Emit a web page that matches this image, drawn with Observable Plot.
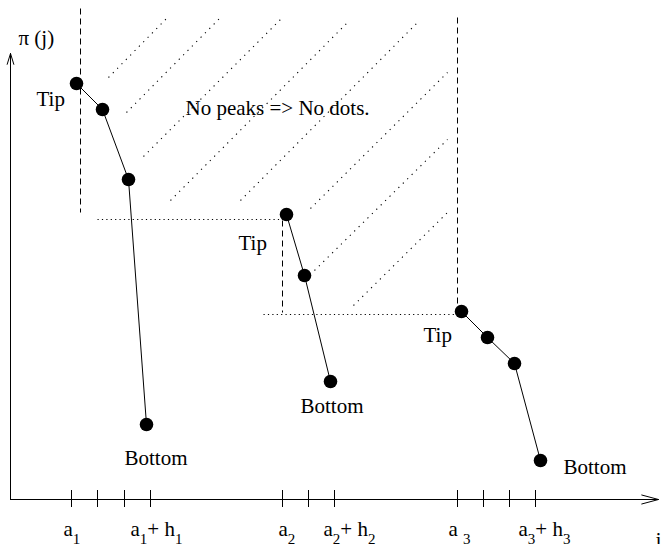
<!DOCTYPE html>
<html>
<head>
<meta charset="utf-8">
<script src="https://cdn.jsdelivr.net/npm/d3@7"></script>
<script src="https://cdn.jsdelivr.net/npm/@observablehq/plot@0.6"></script>
<style>
  html, body { margin: 0; padding: 0; background: #fff; }
  #chart { width: 661px; height: 544px; }
  #chart svg, #chart svg text { font-family: "Liberation Serif", "DejaVu Serif", serif !important; }
</style>
</head>
<body>
<div id="chart"></div>
<script>
// ---- data (j on the horizontal axis, π(j) on the vertical axis) ----
const peak1J  = [66, 92, 118, 136];
const peak1Pi = [416, 390, 320, 75];
const peak2J  = [276, 294, 320];
const peak2Pi = [285, 224, 118];
const peak3J  = [451, 477, 504, 530];
const peak3Pi = [188, 162, 136, 39];

const tickJ = [61, 87, 114, 140, 272, 298, 324, 447, 473, 499, 525];
const tickLabels = ["a_1", "a_1+ h_1", "a_2", "a_2+ h_2", "a _3", "a_3+ h_3"];
const tickLabelJ = [53, 120, 268, 313, 438, 508];

// hatching ("No peaks" region) — dotted diagonal strokes
const hatchJ1  = [98, 116, 133, 160, 230, 300, 304, 343];
const hatchPi1 = [422, 387, 343, 299, 299, 291, 229, 194];
const hatchJ2  = [157, 210, 272, 338, 408, 437, 437, 438];
const hatchPi2 = [482, 482, 482, 478, 478, 427, 360, 288];

// dashed verticals above each tip
const dashJ = [70, 272, 447];
const dashTop = [491, 279, 482];
const dashBottom = [287, 187, 193];

// dotted horizontals at tip heights
const dotPi = [280, 185];
const dotJ1 = [87, 253];
const dotJ2 = [270, 445];

// annotations
const noteText = ["Tip", "Tip", "Tip", "Bottom", "Bottom", "Bottom", "No peaks => No dots."];
const noteJ    = [26, 228, 413, 114, 290, 553, 175];
const notePi   = [394, 250, 158, 35, 87, 26, 385];

const yLabel = "π (j)";
const xLabel = "j";

// ---- tables built from the arrays ----
const peaks = [
  ...peak1J.map((j, i) => ({peak: 1, j, pi: peak1Pi[i]})),
  ...peak2J.map((j, i) => ({peak: 2, j, pi: peak2Pi[i]})),
  ...peak3J.map((j, i) => ({peak: 3, j, pi: peak3Pi[i]}))
];
const hatch = hatchJ1.map((j, i) => ({j1: j, pi1: hatchPi1[i], j2: hatchJ2[i], pi2: hatchPi2[i]}));
const dashes = dashJ.map((j, i) => ({j, top: dashTop[i], bottom: dashBottom[i]}));
const dots = dotPi.map((pi, i) => ({pi, j1: dotJ1[i], j2: dotJ2[i]}));
const notes = noteText.map((t, i) => ({t, j: noteJ[i], pi: notePi[i]}));
const labels = tickLabels.map((t, i) => ({t, j: tickLabelJ[i]}));

const FS = 21;
const FF = "Liberation Serif";

const chart = Plot.plot({
  width: 661,
  height: 544,
  margin: 0,
  x: {domain: [-10, 651], range: [0, 661], axis: null},
  y: {domain: [-45, 499], range: [544, 0], axis: null},
  style: {fontFamily: FF, fontSize: FS + "px", background: "#fff", color: "#000"},
  marks: [
    // hatching
    Plot.link(hatch, {x1: "j1", y1: "pi1", x2: "j2", y2: "pi2", stroke: "#000", strokeWidth: 1.1, strokeDasharray: "1.2,5"}),
    // dashed verticals
    Plot.link(dashes, {x1: "j", y1: "top", x2: "j", y2: "bottom", stroke: "#000", strokeWidth: 1, strokeDasharray: "6,4"}),
    // dotted horizontals
    Plot.link(dots, {x1: "j1", y1: "pi", x2: "j2", y2: "pi", stroke: "#000", strokeWidth: 1, strokeDasharray: "1.2,3.2"}),
    // axes with open arrowheads
    Plot.arrow([{}], {x1: 0, y1: 0, x2: 648, y2: 0, stroke: "#000", strokeWidth: 1, headLength: 26, headAngle: 30}),
    Plot.arrow([{}], {x1: 0, y1: 0, x2: 0, y2: 446, stroke: "#000", strokeWidth: 1, headLength: 17, headAngle: 34}),
    // ticks
    Plot.ruleX(tickJ, {x: d => d, y1: -8, y2: 9, stroke: "#000", strokeWidth: 1}),
    // peak polylines and dots
    Plot.line(peaks, {x: "j", y: "pi", z: "peak", stroke: "#000", strokeWidth: 1}),
    Plot.dot(peaks, {x: "j", y: "pi", r: 6.8, fill: "#000", stroke: "none"}),
    // annotations
    Plot.text(notes, {x: "j", y: "pi", text: "t", textAnchor: "start", lineAnchor: "bottom", fontSize: FS, fontFamily: FF, fill: "#000"}),
    Plot.text([yLabel], {x: 8, y: 455, text: d => d, textAnchor: "start", lineAnchor: "bottom", fontSize: FS, fontFamily: FF, fill: "#000"}),
    Plot.text([xLabel], {x: 645, y: -47, text: d => d, textAnchor: "start", lineAnchor: "bottom", fontSize: FS, fontFamily: FF, fill: "#000"}),
    Plot.text(labels, {x: "j", y: -36, text: "t", textAnchor: "start", lineAnchor: "bottom", fontSize: FS, fontFamily: FF, fill: "#000"})
  ]
});

// turn "_x" into real subscripts
const NS = "http://www.w3.org/2000/svg";
chart.querySelectorAll("text").forEach(el => {
  el.setAttribute("font-family", FF);
  const s = el.textContent;
  if (!s.includes("_")) return;
  while (el.firstChild) el.removeChild(el.firstChild);
  let buf = "";
  let down = false;
  for (let i = 0; i < s.length; i++) {
    if (s[i] === "_" && i + 1 < s.length) {
      if (buf) {
        const t = document.createElementNS(NS, "tspan");
        if (down) { t.setAttribute("dy", "-8"); down = false; }
        t.textContent = buf; el.appendChild(t); buf = "";
      }
      const sub = document.createElementNS(NS, "tspan");
      sub.setAttribute("dy", down ? "0" : "8");
      sub.setAttribute("font-size", "15");
      sub.textContent = s[i + 1];
      el.appendChild(sub);
      down = true;
      i++;
    } else {
      buf += s[i];
    }
  }
  if (buf) {
    const t = document.createElementNS(NS, "tspan");
    if (down) t.setAttribute("dy", "-8");
    t.textContent = buf; el.appendChild(t);
  }
});

document.getElementById("chart").appendChild(chart);
</script>
</body>
</html>
